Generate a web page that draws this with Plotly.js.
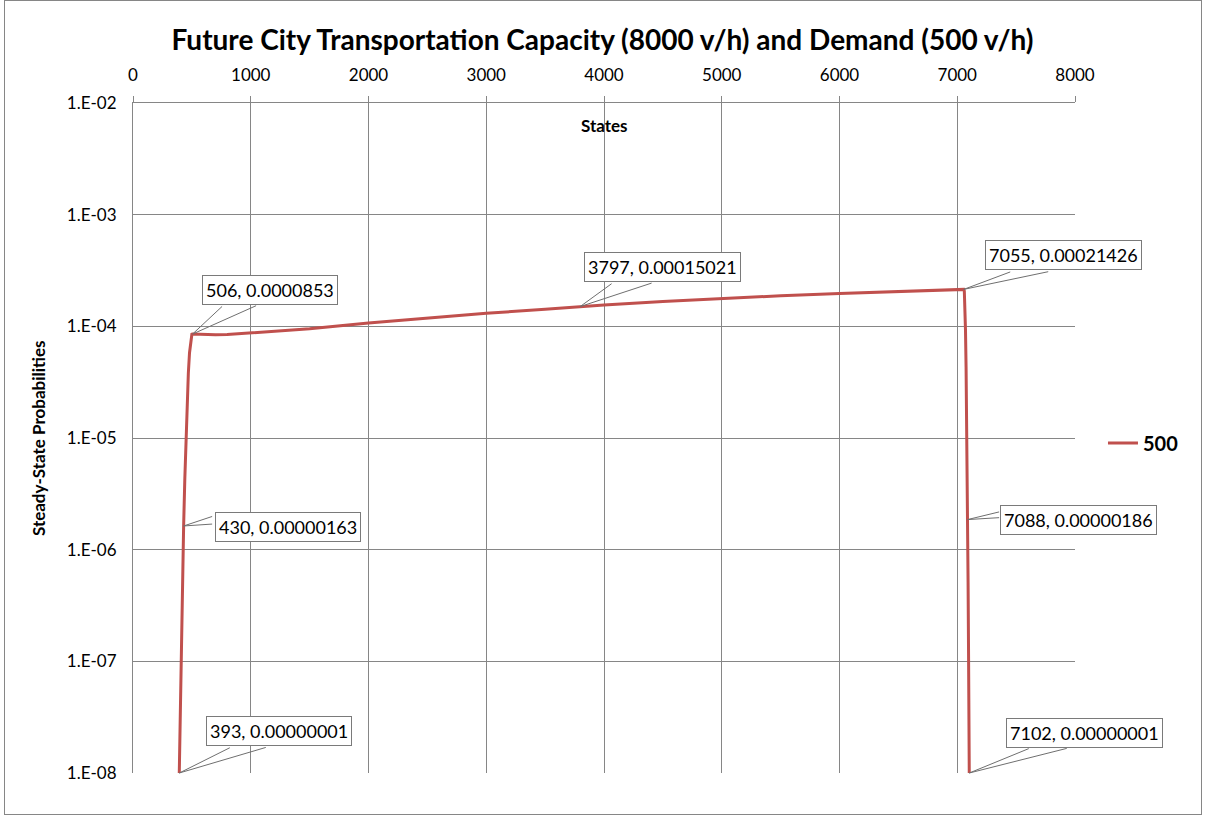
<!DOCTYPE html>
<html>
<head>
<meta charset="utf-8">
<script src="https://cdn.plot.ly/plotly-3.0.1.min.js"></script>
<style>
  html, body { margin: 0; padding: 0; background: #fff; }
  #wrap { position: relative; width: 1205px; height: 818px; }
  #chart { width: 1205px; height: 818px; }
  #frame { position: absolute; left: 4px; top: 0px; width: 1198px; height: 815px; border: 1px solid #868686; box-sizing: border-box; pointer-events: none; }
</style>
</head>
<body>
<div id="wrap"><div id="chart"></div><div id="frame"></div></div>
<script>
// ---- data ----
const seriesName = "500";
const states = [393, 400, 410, 420, 430, 440, 450, 460, 470, 480, 490, 500, 506, 550, 600, 700, 800, 1000, 1300, 1500, 2000, 2500, 3000, 3500, 3797, 4000, 4500, 5000, 5500, 6000, 6500, 7000, 7055, 7060, 7065, 7070, 7075, 7080, 7085, 7088, 7092, 7096, 7100, 7102];
const probs  = [1e-8, 2.9e-8, 1.3e-7, 4.8e-7, 1.63e-6, 4.3e-6, 1.04e-5, 2.1e-5, 3.8e-5, 5.8e-5, 7.6e-5, 8.5e-5, 8.53e-5, 8.5e-5, 8.45e-5, 8.4e-5, 8.45e-5, 8.7e-5, 9.1e-5, 9.5e-5, 1.07e-4, 1.19e-4, 1.31e-4, 1.42e-4, 1.5021e-4, 1.55e-4, 1.67e-4, 1.78e-4, 1.88e-4, 1.97e-4, 2.05e-4, 2.12e-4, 2.1426e-4, 2.07e-4, 1.57e-4, 9.3e-5, 4.3e-5, 1.56e-5, 4.45e-6, 1.86e-6, 5.1e-7, 1.18e-7, 2.35e-8, 1e-8];

const labelStates = [506, 3797, 7055, 430, 393, 7088, 7102];
const labelProbs  = [0.0000853, 0.00015021, 0.00021426, 0.00000163, 0.00000001, 0.00000186, 0.00000001];
const labelTexts  = ["506, 0.0000853", "3797, 0.00015021", "7055, 0.00021426", "430, 0.00000163", "393, 0.00000001", "7088, 0.00000186", "7102, 0.00000001"];

const yTickVals = [1e-2, 1e-3, 1e-4, 1e-5, 1e-6, 1e-7, 1e-8];
const yTickText = ["1.E-02", "1.E-03", "1.E-04", "1.E-05", "1.E-06", "1.E-07", "1.E-08"];

// callout geometry (pixel offsets from the labelled point): box centre, wedge base 1, wedge base 2
const boxOff  = [[77, -44], [82, -40], [100, -34], [104, 1], [100, -42], [111, 0], [115, -40]];
const base1   = [[31, -29], [33, -24], [48, -18], [30, -10], [52, -26], [33, -8], [61, -25]];
const base2   = [[65, -29], [73, -24], [86, -18], [30, -2], [88, -26], [33, -2], [99, -25]];

const FONT = "Lato, 'Open Sans', 'DejaVu Sans', sans-serif";
const GRID = "#868686";

const trace = {
  x: states, y: probs, type: "scatter", mode: "lines", name: seriesName,
  line: { color: "#C0504D", width: 3 }
};

const annotations = [];
for (let i = 0; i < labelStates.length; i++) {
  const ly = Math.log10(labelProbs[i]);
  [base1[i], base2[i]].forEach(b => {
    annotations.push({ x: labelStates[i], y: ly, xref: "x", yref: "y", text: "", showarrow: true,
      arrowhead: 0, arrowwidth: 1, arrowcolor: "#6f6f6f", ax: b[0], ay: b[1], standoff: 0, startstandoff: 0 });
  });
}
for (let i = 0; i < labelStates.length; i++) {
  const ly = Math.log10(labelProbs[i]);
  annotations.push({ x: labelStates[i], y: ly, xref: "x", yref: "y", text: labelTexts[i], showarrow: true,
    arrowwidth: 0.1, arrowcolor: "rgba(0,0,0,0)", ax: boxOff[i][0], ay: boxOff[i][1],
    bgcolor: "#ffffff", bordercolor: "#7a7a7a", borderwidth: 1, borderpad: 3,
    font: { family: FONT, size: 18, color: "#000" } });
}
annotations.push({ xref: "paper", yref: "paper", x: 0.5, y: 0.9657, text: "States", showarrow: false,
  font: { family: FONT, size: 17, color: "#000", weight: "bold" }, xanchor: "center", yanchor: "middle" });
annotations.push({ xref: "paper", yref: "paper", x: -0.1008, y: 0.5, text: "Steady-State Probabilities", textangle: -90,
  showarrow: false, font: { family: FONT, size: 17, color: "#000", weight: "bold" }, xanchor: "center", yanchor: "middle" });

const layout = {
  width: 1205, height: 818,
  margin: { l: 133, r: 130, t: 103, b: 45 },
  paper_bgcolor: "#ffffff", plot_bgcolor: "#ffffff",
  font: { family: FONT, color: "#000" },
  title: { text: "Future City Transportation Capacity (8000 v/h) and Demand (500 v/h)",
    font: { family: FONT, size: 28, color: "#000", weight: "bold" },
    x: 0.5, xref: "container", xanchor: "center", y: 0.951, yref: "container", yanchor: "middle" },
  xaxis: {
    side: "top", range: [0, 8000], dtick: 1000, tick0: 0, showgrid: true, gridcolor: GRID, gridwidth: 1,
    showline: true, linecolor: GRID, linewidth: 1, mirror: false, zeroline: false,
    ticks: "outside", ticklen: 6, tickcolor: GRID, ticklabelstandoff: 8,
    tickfont: { family: FONT, size: 17, color: "#000" }
  },
  yaxis: {
    type: "log", range: [-8, -2], tickvals: yTickVals, ticktext: yTickText,
    showgrid: true, gridcolor: GRID, gridwidth: 1, showline: true, linecolor: GRID, linewidth: 1,
    zeroline: false, ticks: "", ticklabelstandoff: 12,
    tickfont: { family: FONT, size: 17, color: "#000" }
  },
  showlegend: true,
  legend: { x: 1.0297, xanchor: "left", y: 0.4925, yanchor: "middle", bgcolor: "rgba(0,0,0,0)",
    font: { family: FONT, size: 20, color: "#000", weight: "bold" } },
  annotations: annotations
};

Plotly.newPlot("chart", [trace], layout, { displayModeBar: false, staticPlot: true });
</script>
</body>
</html>
